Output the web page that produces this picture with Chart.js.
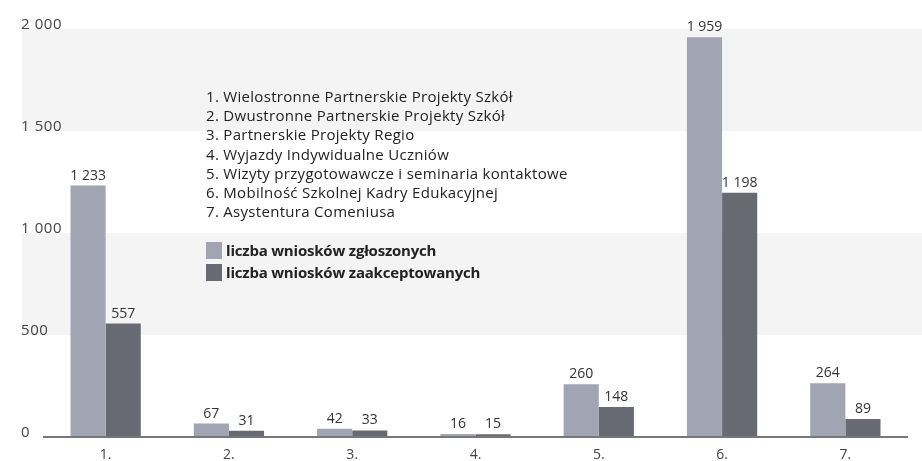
<!DOCTYPE html>
<html lang="pl">
<head>
    <meta charset="UTF-8">
    <title>Wnioski</title>
    <style>
        body { margin: 0; background: #fff; font-family: "Open Sans", sans-serif; }
        #wrap { position: relative; width: 922px; height: 461px; }
        #legendBox { position: absolute; left: 206px; top: 87px; color: #222; font-size: 15px; letter-spacing: 0.3px; }
        #legendBox .prog { height: 19.2px; line-height: 19.2px; white-space: nowrap; }
        #legendBox .series { height: 22px; line-height: 22px; font-weight: bold; letter-spacing: -0.2px; white-space: nowrap; }
        #legendBox .sw { display: inline-block; width: 16px; height: 17px; vertical-align: -3px; margin-right: 4px; }
    </style>
    <script src="https://cdn.jsdelivr.net/npm/chart.js@4.4.6/dist/chart.umd.min.js"></script>
</head>
<body>
<div id="wrap">
    <canvas id="myChart" width="922" height="461"></canvas>
    <div id="legendBox"></div>
</div>
<script>
    // categories and values
    const categories = ['1.', '2.', '3.', '4.', '5.', '6.', '7.'];
    const programmes = [
        '1. Wielostronne Partnerskie Projekty Szkół',
        '2. Dwustronne Partnerskie Projekty Szkół',
        '3. Partnerskie Projekty Regio',
        '4. Wyjazdy Indywidualne Uczniów',
        '5. Wizyty przygotowawcze i seminaria kontaktowe',
        '6. Mobilność Szkolnej Kadry Edukacyjnej',
        '7. Asystentura Comeniusa'
    ];
    const seriesNames = ['liczba wniosków zgłoszonych', 'liczba wniosków zaakceptowanych'];
    const submitted = [1233, 67, 42, 16, 260, 1959, 264];
    const accepted = [557, 31, 33, 15, 148, 1198, 89];
    const yTicks = [0, 500, 1000, 1500, 2000];
    const colors = ['#a1a4b2', '#686a73'];

    function fmt(n) {
        return String(n).replace(/\B(?=(\d{3})+(?!\d))/g, ' ');
    }

    // legend text drawn as html
    const box = document.getElementById('legendBox');
    programmes.forEach(p => {
        const d = document.createElement('div');
        d.className = 'prog';
        d.textContent = p;
        box.appendChild(d);
    });
    const gap = document.createElement('div');
    gap.style.height = '18px';
    box.appendChild(gap);
    seriesNames.forEach((s, i) => {
        const d = document.createElement('div');
        d.className = 'series';
        d.innerHTML = '<span class="sw" style="background:' + colors[i] + '"></span>' + s;
        box.appendChild(d);
    });

    // grey bands, y labels and value labels
    const decor = {
        id: 'decor',
        beforeDatasetsDraw(chart) {
            const ctx = chart.ctx;
            const y = chart.scales.y;
            ctx.save();
            ctx.fillStyle = '#f4f4f4';
            for (let i = 1; i < yTicks.length; i += 2) {
                const top = y.getPixelForValue(yTicks[i + 1] !== undefined ? yTicks[i + 1] : yTicks[i]);
                const bot = y.getPixelForValue(yTicks[i]);
                ctx.fillRect(22, top, chart.width - 22, bot - top);
            }
            ctx.fillStyle = '#444';
            ctx.font = '15px "Open Sans"';
            ctx.letterSpacing = '0.6px';
            ctx.textAlign = 'left';
            ctx.textBaseline = 'bottom';
            yTicks.forEach(v => {
                ctx.fillText(fmt(v), 21, y.getPixelForValue(v) + 3);
            });
            ctx.restore();
        },
        afterDatasetsDraw(chart) {
            const ctx = chart.ctx;
            ctx.save();
            ctx.fillStyle = '#333';
            ctx.font = '14px "Open Sans"';
            ctx.textAlign = 'center';
            ctx.textBaseline = 'bottom';
            chart.data.datasets.forEach((ds, di) => {
                chart.getDatasetMeta(di).data.forEach((bar, i) => {
                    ctx.fillText(fmt(ds.data[i]), bar.x, bar.y - 3);
                });
            });
            ctx.restore();
        }
    };

    new Chart(document.getElementById('myChart'), {
        type: 'bar',
        data: {
            labels: categories,
            datasets: [
                { label: seriesNames[0], data: submitted, backgroundColor: colors[0] },
                { label: seriesNames[1], data: accepted, backgroundColor: colors[1] }
            ]
        },
        options: {
            responsive: false,
            animation: false,
            layout: { padding: { left: 44, right: 15, top: 29, bottom: -3 } },
            categoryPercentage: 0.57,
            barPercentage: 1.0,
            plugins: {
                legend: { display: false },
                tooltip: { enabled: false }
            },
            scales: {
                x: {
                    grid: { display: false, drawTicks: true, tickLength: 8 },
                    border: { color: '#777', width: 2, z: 1 },
                    ticks: { color: '#444', font: { family: 'Open Sans', size: 14 }, padding: 1 }
                },
                y: {
                    display: false,
                    min: 0,
                    max: 2000
                }
            }
        },
        plugins: [decor]
    });
</script>
</body>
</html>
